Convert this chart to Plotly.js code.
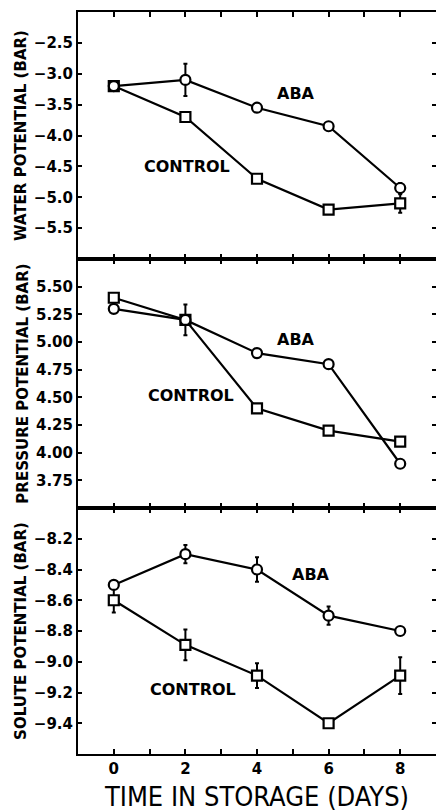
<!DOCTYPE html>
<html>
<head>
<meta charset="utf-8">
<script src="https://cdn.plot.ly/plotly-3.0.1.min.js"></script>
<style>
html,body{margin:0;padding:0;background:#fff;}
#chart{width:436px;height:812px;}
</style>
</head>
<body>
<div id="chart"></div>
<script>
// ---- data ----
const days = [0, 2, 4, 6, 8];

const waterABA = [-3.2, -3.1, -3.55, -3.85, -4.85];
const waterABAErr = [0, 0.26, 0, 0, 0.08];
const waterControl = [-3.2, -3.7, -4.7, -5.2, -5.1];
const waterControlErr = [0, 0, 0, 0, 0.15];

const pressureABA = [5.3, 5.2, 4.9, 4.8, 3.9];
const pressureABAErr = [0, 0.14, 0, 0, 0];
const pressureControl = [5.4, 5.2, 4.4, 4.2, 4.1];
const pressureControlErr = [0, 0, 0, 0, 0];

const soluteABA = [-8.5, -8.3, -8.4, -8.7, -8.8];
const soluteABAErr = [0, 0.06, 0.08, 0.06, 0];
const soluteControl = [-8.6, -8.89, -9.09, -9.4, -9.09];
const soluteControlErr = [0.08, 0.1, 0.08, 0, 0.12];

const xTickVals = [0, 1, 2, 3, 4, 5, 6, 7, 8];
const xTickText = ["0", "", "2", "", "4", "", "6", "", "8"];
const waterTicks = [-5.5, -5.0, -4.5, -4.0, -3.5, -3.0, -2.5];
const pressureTicks = [3.75, 4.0, 4.25, 4.5, 4.75, 5.0, 5.25, 5.5];
const soluteTicks = [-9.4, -9.2, -9.0, -8.8, -8.6, -8.4, -8.2];

const panelTitles = ["WATER POTENTIAL (BAR)", "PRESSURE POTENTIAL (BAR)", "SOLUTE POTENTIAL (BAR)"];
const xTitle = "TIME IN STORAGE (DAYS)";
const seriesLabels = ["ABA", "CONTROL"];

// ---- styling helpers ----
const boldFont = {family: "DejaVu Sans", size: 15, color: "#000", weight: 700};

function series(y, err, sym, xa, ya) {
  return {
    x: days, y: y, xaxis: xa, yaxis: ya,
    type: "scatter", mode: "lines+markers",
    line: {color: "#000", width: 2.2},
    marker: {symbol: sym, size: 10, color: "#fff", line: {color: "#000", width: 2.2}},
    error_y: {type: "data", array: err, visible: true, color: "#000", thickness: 2, width: 2},
    showlegend: false, hoverinfo: "skip"
  };
}

const traces = [
  series(waterControl, waterControlErr, "square", "x", "y"),
  series(waterABA, waterABAErr, "circle", "x", "y"),
  series(pressureControl, pressureControlErr, "square", "x2", "y2"),
  series(pressureABA, pressureABAErr, "circle", "x2", "y2"),
  series(soluteControl, soluteControlErr, "square", "x3", "y3"),
  series(soluteABA, soluteABAErr, "circle", "x3", "y3")
];

function xAxis(anchor, showLabels) {
  return {
    anchor: anchor, domain: [0, 1], range: [-1, 9],
    tickvals: xTickVals, ticktext: xTickText,
    showticklabels: showLabels,
    ticks: "inside", ticklen: 5, tickwidth: 2, tickcolor: "#000",
    showline: true, linewidth: 2, linecolor: "#000", mirror: "ticks",
    showgrid: false, zeroline: false,
    tickfont: boldFont, fixedrange: true
  };
}

function yAxis(anchor, domain, range, tickvals, fmt, title) {
  return {
    anchor: anchor, domain: domain, range: range,
    tickvals: tickvals, tickformat: fmt,
    ticks: "inside", ticklen: 4, tickwidth: 2, tickcolor: "#000",
    showline: true, linewidth: 2, linecolor: "#000", mirror: "ticks",
    showgrid: false, zeroline: false,
    tickfont: boldFont,
    title: {text: title, font: {family: "DejaVu Sans", size: 15, color: "#000", weight: 700}, standoff: 4},
    fixedrange: true
  };
}

const x3 = xAxis("y3", true);
x3.title = {text: xTitle, font: {family: "DejaVu Sans Condensed, DejaVu Sans", size: 27, color: "#000"}, standoff: 10};

const annFont = {family: "DejaVu Sans", size: 16, color: "#000", weight: 700};
function label(text, x, y, xa, ya) {
  return {text: text, x: x, y: y, xref: xa, yref: ya, showarrow: false, font: annFont, xanchor: "center", yanchor: "middle"};
}

const layout = {
  width: 436, height: 812,
  margin: {l: 78, r: 0, t: 12, b: 58},
  paper_bgcolor: "#fff", plot_bgcolor: "#fff",
  xaxis: xAxis("y", false),
  xaxis2: xAxis("y2", false),
  xaxis3: x3,
  yaxis: yAxis("x", [0.6671, 1], [-6, -2], waterTicks, ".1f", panelTitles[0]),
  yaxis2: yAxis("x2", [0.3315, 0.6671], [3.5, 5.75], pressureTicks, ".2f", panelTitles[1]),
  yaxis3: yAxis("x3", [0, 0.3315], [-9.6, -8.0], soluteTicks, ".1f", panelTitles[2]),
  annotations: [
    label(seriesLabels[0], 5.1, -3.32, "x", "y"),
    label(seriesLabels[1], 2.05, -4.5, "x", "y"),
    label(seriesLabels[0], 5.1, 5.02, "x2", "y2"),
    label(seriesLabels[1], 2.15, 4.52, "x2", "y2"),
    label(seriesLabels[0], 5.5, -8.43, "x3", "y3"),
    label(seriesLabels[1], 2.2, -9.18, "x3", "y3")
  ]
};

Plotly.newPlot("chart", traces, layout, {displayModeBar: false, staticPlot: true});
</script>
</body>
</html>
